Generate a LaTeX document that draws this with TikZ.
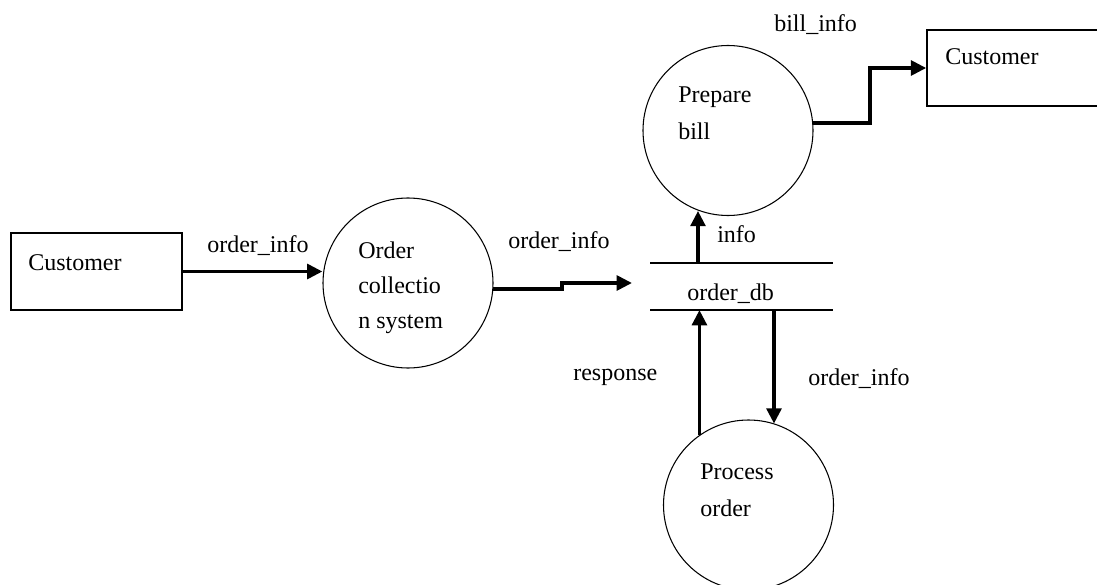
\documentclass[tikz,border=0pt]{standalone}
\usepackage{fontspec}
\setmainfont{Liberation Serif}
\usetikzlibrary{arrows.meta}
\begin{document}
\begin{tikzpicture}[x=0.75pt,y=-0.75pt,
  txt/.style={inner sep=0pt, anchor=base west, font=\fontsize{18pt}{22pt}\selectfont},
  proc/.style={circle, draw, line width=0.8pt, minimum size=127.5pt, inner sep=0pt},
  ext/.style={rectangle, draw, line width=1.1pt, inner sep=0pt},
  flow/.style={line width=2.8pt, -{Triangle[length=11.5pt,width=11pt]}},
  store/.style={line width=1.1pt}]
\clip (0,0) rectangle (1097,585);
\fill[white] (0,0) rectangle (1097,585);

% external entities
\node[ext, minimum width=128.25pt, minimum height=57.75pt] (custL) at (96.5,271.5) {};
\node[ext, minimum width=132pt, minimum height=57pt] (custR) at (1015,68) {};

% processes
\node[proc] (ocs) at (408,283) {};
\node[proc] (pb) at (728,130.5) {};
\node[proc] (po) at (748.5,505) {};

% data store order_db
\coordinate (sTL) at (650,263);
\coordinate (sTR) at (833,263);
\coordinate (sBL) at (650,310);
\coordinate (sBR) at (833,310);
\draw[store] (sTL) -- (sTR);
\draw[store] (sBL) -- (sBR);
\coordinate (sIn) at (632,283);
\coordinate (sInfo) at (698,263);
\coordinate (sResp) at (700,310);
\coordinate (sOut) at (774,310);

% data flows
\draw[flow] (custL.east) -- (custL.east -| ocs.west);
\draw[flow] (ocs.-4) -- ++(69,0) |- (sIn);
\draw[flow] (sInfo) -- (sInfo |- pb.250);
\draw[flow] (pb.5) -- ++(57,0) |- (custR.west);
\draw[flow] (po.125) -- (po.125 |- sResp);
\draw[flow] (sOut) -- (sOut |- po.72);

% texts
\node[txt] (tCustL) at (28,270) {Customer};
\node[txt] (tF1) at (207,252) {order\_info};
\node[txt] (tO1) at (358,258) {Order};
\node[txt] (tO2) at (358,293) {collectio};
\node[txt] (tO3) at (358,328) {n system};
\node[txt] (tF2) at (508,248) {order\_info};
\node[txt] (tDb) at (687,300) {order\_db};
\node[txt] (tInfo) at (717,242) {info};
\node[txt] (tP1) at (678,103) {Prepare};
\node[txt] (tP2) at (678,140) {bill};
\node[txt] (tBill) at (774,32) {bill\_info};
\node[txt] (tCustR) at (945,65) {Customer};
\node[txt] (tQ1) at (700,479) {Process};
\node[txt] (tQ2) at (700,516) {order};
\node[txt] (tResp) at (573,380) {response};
\node[txt] (tF3) at (808,385) {order\_info};
\end{tikzpicture}
\end{document}
